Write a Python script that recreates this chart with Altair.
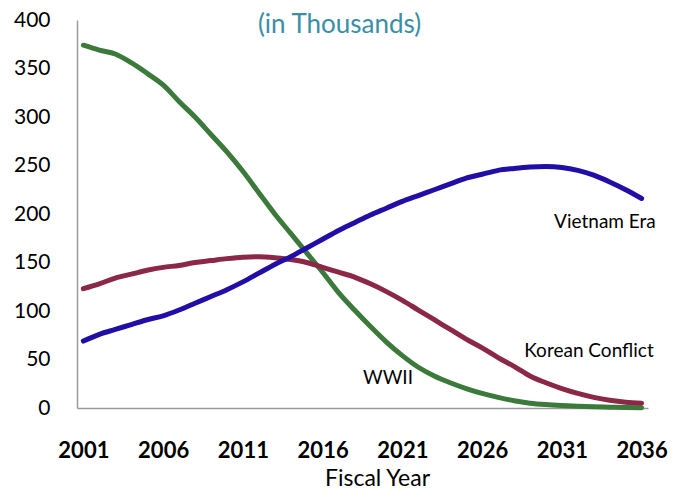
import altair as alt
import pandas as pd

years = list(range(2001, 2037))
wwii = [374, 369, 365, 356, 345, 333, 316, 300, 282, 264, 244, 222, 200, 180, 160, 140,
        119, 101, 84, 68, 54, 42, 33, 26, 20, 15, 11, 7.5, 5, 3.5, 2.5, 1.8, 1.2, 0.8, 0.5, 0.3]
korean = [123, 128, 134, 138, 142, 145, 147, 150, 152, 154, 155.5, 156, 155, 153, 150, 145,
          140, 135, 128, 120, 111, 101, 91, 81, 71, 62, 52, 43, 33, 26, 20, 15, 11, 8, 6, 5]
vietnam = [69, 76, 81, 86, 91, 95, 101, 108, 115, 122, 130, 139, 148, 156, 165, 174,
           183, 191, 199, 206, 213, 219, 225, 231, 237, 241, 245, 247, 248.5, 249, 248, 245,
           240, 233, 225, 216]

series_names = ["WWII", "Korean Conflict", "Vietnam Era"]
series_colors = ["#3b7a3b", "#8a2846", "#200ea6"]

label_text = ["Vietnam Era", "Korean Conflict", "WWII"]
label_year = [2033.7, 2032.7, 2020.1]
label_value = [192, 59, 31]

title_text = ["(in Thousands)"]
title_year = [2017.06]
title_value = [386.5]

x_ticks = [2001, 2006, 2011, 2016, 2021, 2026, 2031, 2036]
y_ticks = [0, 50, 100, 150, 200, 250, 300, 350, 400]

rows = []
for name, vals in zip(series_names, [wwii, korean, vietnam]):
    for yr, v in zip(years, vals):
        rows.append({"year": yr, "value": v, "series": name})
df = pd.DataFrame(rows)
labels = pd.DataFrame({"year": label_year, "value": label_value, "text": label_text})
title_df = pd.DataFrame({"year": title_year, "value": title_value, "text": title_text})

FONT = "Lato"

x_scale = alt.Scale(domain=[2000.6, 2036.4], nice=False, zero=False)
y_scale = alt.Scale(domain=[0, 400], nice=False)

lines = alt.Chart(df).mark_line(strokeWidth=5, strokeCap="round", interpolate="monotone").encode(
    x=alt.X("year:Q", scale=x_scale,
            axis=alt.Axis(values=x_ticks, format="d", title="Fiscal Year", grid=False, ticks=False,
                          domainColor="#9a9a9a", domainWidth=1.5, labelFontSize=22,
                          labelFontWeight="bold", labelColor="#000000", labelFont=FONT,
                          labelPadding=32, labelFlush=False, labelOverlap=False,
                          titleFont=FONT, titleFontSize=23, titleFontWeight="normal",
                          titleColor="#000000", titleX=300, titleY=77,
                          titleBaseline="alphabetic", titleAnchor="start", titleAlign="center")),
    y=alt.Y("value:Q", scale=y_scale,
            axis=alt.Axis(values=y_ticks, title=None, grid=False, ticks=False,
                          domainColor="#9a9a9a", domainWidth=1.5, labelFontSize=21,
                          labelColor="#000000", labelFont=FONT, labelPadding=27,
                          labelFlush=False, labelOverlap=False)),
    color=alt.Color("series:N", scale=alt.Scale(domain=series_names, range=series_colors),
                    legend=None),
    detail="series:N",
)

texts = alt.Chart(labels).mark_text(font=FONT, fontSize=19, color="#000000",
                                    align="center", baseline="middle").encode(
    x=alt.X("year:Q", scale=x_scale),
    y=alt.Y("value:Q", scale=y_scale),
    text="text:N",
)

title_mark = alt.Chart(title_df).mark_text(font=FONT, fontSize=26, color="#3a8ea6",
                                           align="center", baseline="alphabetic").encode(
    x=alt.X("year:Q", scale=x_scale),
    y=alt.Y("value:Q", scale=y_scale),
    text="text:N",
)

chart = alt.layer(lines, texts, title_mark).properties(
    width=571,
    height=388,
    autosize=alt.AutoSizeParams(type="none"),
    padding={"left": 69, "top": 12, "right": 25, "bottom": 83},
).configure_view(stroke=None)

chart.save("out.html", embed_options={"renderer": "svg", "actions": False})
